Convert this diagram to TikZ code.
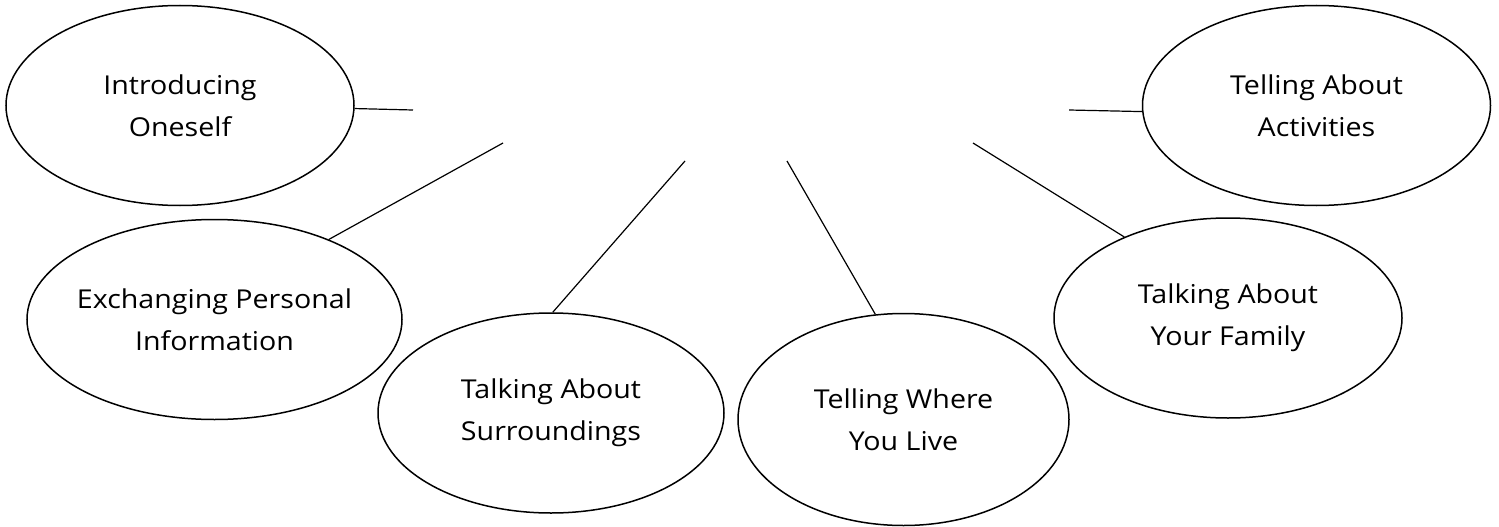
\documentclass[tikz,border=0pt]{standalone}
\usepackage{fontspec}
\setmainfont[FakeStretch=1.1]{Open Sans}
\usetikzlibrary{shapes.geometric}
\begin{document}
\begin{tikzpicture}[x=1pt,y=-1pt,
  topic/.style={ellipse, draw, line width=1.5pt, inner ysep=0pt, inner xsep=-60pt, align=center,
    font=\fontsize{26}{42}\selectfont},
  link/.style={line width=1.2pt}]
\useasboundingbox (0,0) rectangle (1499,527);
\node[topic, minimum width=348pt, minimum height=200pt] (intro) at (180,105.5) {Introducing\\Oneself};
\node[topic, minimum width=348pt, minimum height=200pt] (act) at (1316.5,105.5) {Telling About\\Activities};
\node[topic, minimum width=375pt, minimum height=200pt] (exch) at (214.5,319.5) {Exchanging Personal\\Information};
\node[topic, minimum width=346pt, minimum height=200pt] (sur) at (551,413) {Talking About\\Surroundings};
\node[topic, minimum width=331pt, minimum height=212pt] (live) at (903.5,419.5) {Telling Where\\You Live};
\node[topic, minimum width=348pt, minimum height=200pt] (fam) at (1228,318) {Talking About\\Your Family};
\coordinate (iend) at (413,110);
\coordinate (aend) at (1069,110);
\coordinate (eend) at (503,143);
\coordinate (send) at (685,161);
\coordinate (tend) at (787,161);
\coordinate (fend) at (973,143);
\draw[link] (intro.-1.5) -- (iend);
\draw[link] (act.-178.5) -- (aend);
\draw[link] (exch.35) -- (eend);
\draw[link] (sur.89) -- (send);
\draw[link] (live.105) -- (tend);
\draw[link] (fam.142) -- (fend);
\end{tikzpicture}
\end{document}
